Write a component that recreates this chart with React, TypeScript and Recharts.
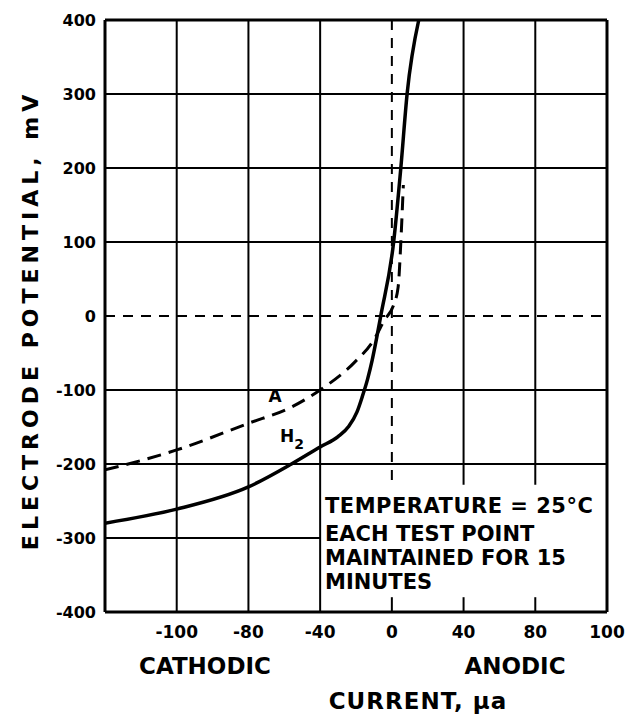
import { LineChart, Line, XAxis, YAxis, ReferenceLine } from 'recharts';

// x axis labels as printed (the scale is not uniform between them)
const xTickCurrents = [-100, -80, -40, 0, 40, 80, 100];
const xEdgeCurrent = -120; // left border of the plot
const yTicks = [-400, -300, -200, -100, 0, 100, 200, 300, 400];

// solid curve (H2), current in µa, potential in mV
const solidCurrent = [-120, -100, -80, -56, -40, -30, -24, -19.5, -16.5, -13.5, -11, -8.5, -6.2, 1, 5, 8.5, 15];
const solidPotential = [-280, -261, -231, -200, -177, -163, -149, -130, -109, -85, -60, -30, 0, 100, 200, 300, 400];

// dashed curve (A)
const dashedCurrent = [-120, -100, -80, -56, -40, -21, -10, -4, 1, 3.5, 5.2, 6.4];
const dashedPotential = [-208, -181, -145, -123, -100, -63, -32, -5, 15, 39, 110, 177];

const fullGridY = [-200, -100, 100, 200, 300];
const fullGridX = [1, 2, 3];
const boxGridX = [5, 6];
const boxTop = -228;
const boxBottom = -380;

const breakpoints = [xEdgeCurrent, ...xTickCurrents];

// place a current on the division-based axis (piecewise linear between printed ticks)
const toDiv = (c: number) => {
  for (let i = 0; i < breakpoints.length - 1; i++) {
    const a = breakpoints[i];
    const b = breakpoints[i + 1];
    if (c <= b || i === breakpoints.length - 2) return i + (c - a) / (b - a);
  }
  return 0;
};

const solidData = solidCurrent.map((c, i) => ({ pos: toDiv(c), mv: solidPotential[i] }));
const dashedData = dashedCurrent.map((c, i) => ({ pos: toDiv(c), mv: dashedPotential[i] }));

const font = "'DejaVu Sans', sans-serif";
const ink = '#000';

const App = () => {
  return (
    <div style={{ position: 'absolute', left: 0, top: 0, width: 629, height: 721, background: '#fff' }}>
      <LineChart width={629} height={721} margin={{ top: 20, right: 22, bottom: 79, left: 0 }}>
        <XAxis
          type="number"
          dataKey="pos"
          domain={[0, 7]}
          ticks={[1, 2, 3, 4, 5, 6, 7]}
          tickFormatter={(v: number) => String(xTickCurrents[v - 1])}
          tickLine={false}
          tickSize={0}
          tickMargin={14}
          axisLine={{ stroke: ink, strokeWidth: 3 }}
          tick={{ fill: ink, fontSize: 17, fontWeight: 'bold', fontFamily: font }}
          allowDataOverflow
        />
        <YAxis
          type="number"
          dataKey="mv"
          width={105}
          domain={[-400, 400]}
          ticks={yTicks}
          tickLine={false}
          tickSize={0}
          tickMargin={9}
          axisLine={{ stroke: ink, strokeWidth: 3 }}
          tick={{ fill: ink, fontSize: 16, fontWeight: 'bold', fontFamily: font }}
        />

        {fullGridY.map((y) => (
          <ReferenceLine key={'gy' + y} y={y} stroke={ink} strokeWidth={2} />
        ))}
        <ReferenceLine segment={[{ x: 0, y: -300 }, { x: 3, y: -300 }]} stroke={ink} strokeWidth={2} />
        {fullGridX.map((x) => (
          <ReferenceLine key={'gx' + x} x={x} stroke={ink} strokeWidth={2} />
        ))}
        {boxGridX.map((x) => (
          <ReferenceLine key={'bx' + x} segment={[{ x, y: 400 }, { x, y: boxTop }]} stroke={ink} strokeWidth={2} />
        ))}
        {[4, 5, 6].map((x) => (
          <ReferenceLine key={'st' + x} segment={[{ x, y: boxBottom }, { x, y: -400 }]} stroke={ink} strokeWidth={2} />
        ))}
        <ReferenceLine y={0} stroke={ink} strokeWidth={2} strokeDasharray="10 8" />
        <ReferenceLine segment={[{ x: 4, y: 400 }, { x: 4, y: boxTop }]} stroke={ink} strokeWidth={2} strokeDasharray="10 8" />
        <ReferenceLine y={400} stroke={ink} strokeWidth={3} />
        <ReferenceLine x={7} stroke={ink} strokeWidth={3} />

        <Line
          data={dashedData}
          dataKey="mv"
          type="monotone"
          stroke={ink}
          strokeWidth={3}
          strokeDasharray="14 8"
          dot={false}
          isAnimationActive={false}
        />
        <Line
          data={solidData}
          dataKey="mv"
          type="monotone"
          stroke={ink}
          strokeWidth={3.5}
          dot={false}
          isAnimationActive={false}
        />

        <text x={275} y={402} textAnchor="middle" fontSize={17} fontWeight="bold" fontFamily={font} fill={ink}>A</text>
        <text x={280} y={442} fontSize={17} fontWeight="bold" fontFamily={font} fill={ink}>
          H<tspan fontSize={14} dy={7}>2</tspan>
        </text>

        <g fontFamily={font} fontWeight="bold" fontSize={21} fill={ink}>
          <text x={325} y={513} letterSpacing={0.5}>TEMPERATURE = 25°C</text>
          <text x={325} y={541}>EACH TEST POINT</text>
          <text x={325} y={565}>MAINTAINED FOR 15</text>
          <text x={325} y={589}>MINUTES</text>
        </g>

        <g fontFamily={font} fontWeight="bold" fontSize={23} fill={ink}>
          <text x={205} y={674} textAnchor="middle">CATHODIC</text>
          <text x={515} y={674} textAnchor="middle">ANODIC</text>
          <text x={418} y={709} textAnchor="middle" letterSpacing={1}>CURRENT, µa</text>
        </g>
        <text
          x={30}
          y={320}
          transform="rotate(-90 30 320)"
          textAnchor="middle"
          dominantBaseline="central"
          fontFamily={font}
          fontWeight="bold"
          fontSize={22}
          letterSpacing={5}
          fill={ink}
        >
          ELECTRODE POTENTIAL, mV
        </text>
      </LineChart>
    </div>
  );
};

export default App;
